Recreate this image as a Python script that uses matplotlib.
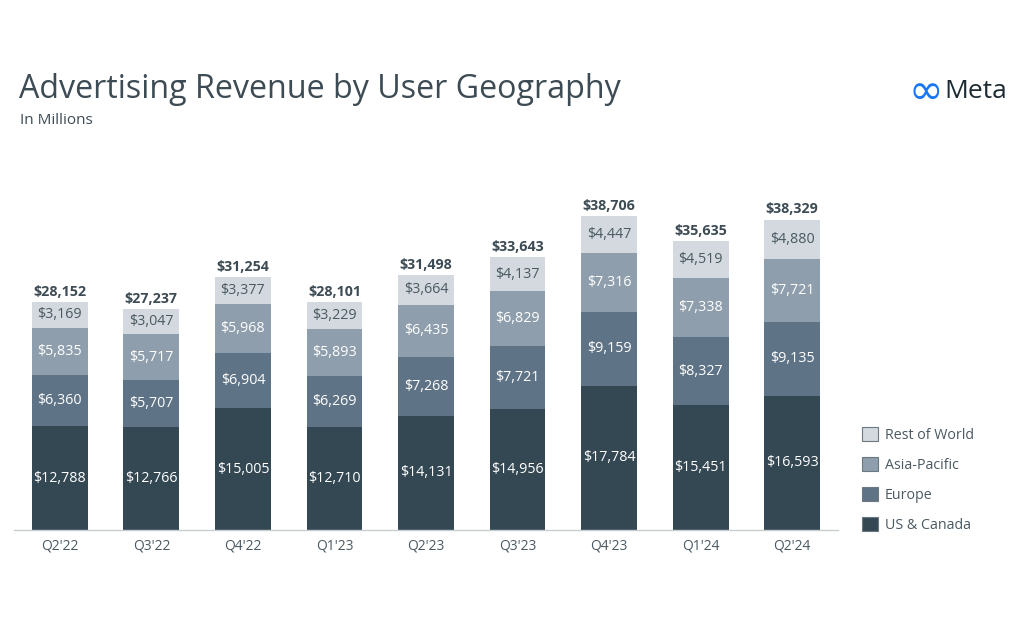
import matplotlib
matplotlib.use("Agg")
import matplotlib.pyplot as plt
from matplotlib.patches import Patch

quarters = ["Q2'22", "Q3'22", "Q4'22", "Q1'23", "Q2'23", "Q3'23", "Q4'23", "Q1'24", "Q2'24"]
us_canada = [12788, 12766, 15005, 12710, 14131, 14956, 17784, 15451, 16593]
europe = [6360, 5707, 6904, 6269, 7268, 7721, 9159, 8327, 9135]
asia_pacific = [5835, 5717, 5968, 5893, 6435, 6829, 7316, 7338, 7721]
rest_of_world = [3169, 3047, 3377, 3229, 3664, 4137, 4447, 4519, 4880]
totals = [28152, 27237, 31254, 28101, 31498, 33643, 38706, 35635, 38329]

series = [
    ("US & Canada", us_canada, "#344854", "white"),
    ("Europe", europe, "#5f7386", "white"),
    ("Asia-Pacific", asia_pacific, "#8e9eac", "white"),
    ("Rest of World", rest_of_world, "#d3d9de", "#4a5962"),
]

plt.rcParams['font.family'] = ['Open Sans', 'DejaVu Sans']
text_color = "#3d4b54"

fig = plt.figure(figsize=(10.24, 6.4), dpi=100)
ax = fig.add_axes([14 / 1024, 110 / 640, 824 / 1024, 324 / 640])

x = list(range(len(quarters)))
bottom = [0] * len(quarters)
for name, vals, color, tcolor in series:
    ax.bar(x, vals, width=0.61, bottom=bottom, color=color, edgecolor="none")
    for i, v in enumerate(vals):
        ax.text(i, bottom[i] + v / 2, f"${v:,}", ha="center", va="center",
                color=tcolor, fontsize=10.3)
    bottom = [b + v for b, v in zip(bottom, vals)]

for i, t in enumerate(totals):
    ax.text(i, bottom[i] + 400, f"${t:,}", ha="center", va="bottom",
            color=text_color, fontsize=10.3, fontweight="bold")

ax.set_xlim(-0.5, len(quarters) - 0.5)
ax.set_ylim(0, 40000)
ax.set_xticks(x)
ax.set_xticklabels(quarters, fontsize=10, color="#4a5962")
ax.tick_params(axis="x", length=0, pad=6)
ax.set_yticks([])
for s in ["top", "right", "left"]:
    ax.spines[s].set_visible(False)
ax.spines["bottom"].set_color("#c8cdd1")
ax.spines["bottom"].set_linewidth(1)

fig.text(19 / 1024, 1 - 90 / 640, "Advertising Revenue by User Geography",
         fontsize=23.2, color=text_color, va="center", ha="left")
fig.text(20 / 1024, 1 - 121 / 640, "In Millions", fontsize=11,
         color=text_color, va="center", ha="left")

# Meta logo
fig.text(926 / 1024, 1 - 92 / 640, "\u221e", fontsize=30, color="#1877f2",
         va="center", ha="center", family="DejaVu Sans")
fig.text(944 / 1024, 1 - 91 / 640, "Meta", fontsize=19, color="#1c2b33",
         va="center", ha="left")

handles = [Patch(facecolor=c, edgecolor="#6b7880", linewidth=0.8, label=n)
           for n, _, c, _ in series[::-1]]
fig.legend(handles=handles, loc="upper left", bbox_to_anchor=(849 / 1024, 1 - 414 / 640),
           frameon=False, fontsize=10.3, labelcolor="#4a5962", handlelength=1.1,
           handleheight=1.1, labelspacing=1.0, handletextpad=0.5)

fig.savefig("out.png", dpi=100, facecolor="white")
